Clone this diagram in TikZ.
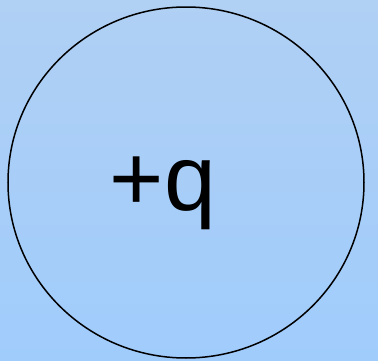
\documentclass[tikz,border=0pt]{standalone}
\usepackage{fontspec}
\setmainfont{Liberation Sans}
\usetikzlibrary{positioning,shapes.geometric}
\definecolor{skytop}{RGB}{176, 208, 244}
\definecolor{skybottom}{RGB}{160, 204, 252}

\begin{document}
\begin{tikzpicture}[
  x=1pt, y=1pt,
  charge/.style={
    draw=black,
    line width=1.5pt,
    ellipse,
    minimum width=356pt,
    minimum height=351pt,
    inner sep=0pt
  },
  chargelabel/.style={
    font=\fontsize{93}{93}\selectfont,
    inner sep=0pt,
    anchor=base
  }
]

  % Background
  \shade[top color=skytop, bottom color=skybottom] (0,0) rectangle (378,360);
  \useasboundingbox (0,0) rectangle (378,360);

  % Charged sphere
  \node[charge] (sphere) at (186,177.5) {};
  \node[chargelabel] (q) at (163,150) {+q};

\end{tikzpicture}
\end{document}
